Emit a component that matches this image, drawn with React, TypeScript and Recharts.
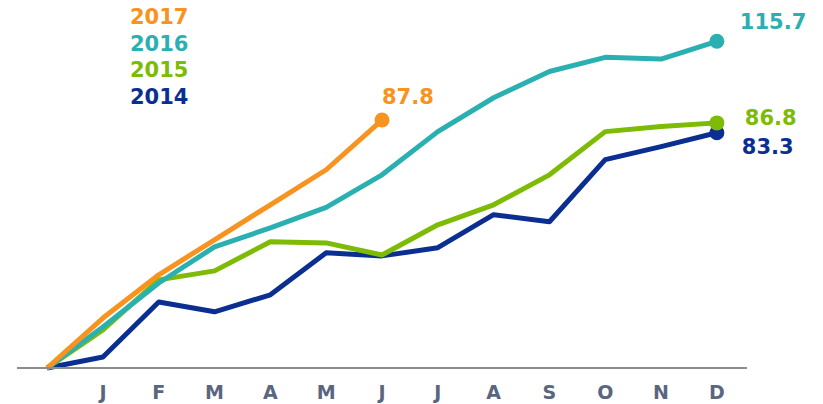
import { LineChart, Line, XAxis, YAxis } from 'recharts'

const months = ['', 'J', 'F', 'M', 'A', 'M', 'J', 'J', 'A', 'S', 'O', 'N', 'D']
const monthTicks = [1, 2, 3, 4, 5, 6, 7, 8, 9, 10, 11, 12]

const y2014 = [0, 3.9, 23.4, 19.9, 25.9, 40.8, 39.7, 42.6, 54.3, 51.8, 73.8, 78.4, 83.3]
const y2015 = [0, 13.5, 31.2, 34.4, 44.7, 44.3, 40.0, 50.7, 57.8, 68.4, 83.7, 85.5, 86.8]
const y2016 = [0, 14.5, 30.1, 42.9, 49.6, 56.9, 68.4, 83.7, 95.7, 105.0, 110.0, 109.4, 115.7]
const y2017 = [0, 17.7, 33.0, 45.4, 57.8, 70.2, 87.8]

const data = months.map((m, i) => ({
  i,
  m,
  y2014: y2014[i],
  y2015: y2015[i],
  y2016: y2016[i],
  y2017: i < y2017.length ? y2017[i] : null,
}))

const series = [
  { key: 'y2017', name: '2017', color: '#F7931E', last: y2017.length - 1, dx: 0, dy: -22 },
  { key: 'y2016', name: '2016', color: '#2BB0B2', last: 12, dx: 23, dy: -18 },
  { key: 'y2015', name: '2015', color: '#7DBB05', last: 12, dx: 28, dy: -4 },
  { key: 'y2014', name: '2014', color: '#0B2F91', last: 12, dx: 25, dy: 15 },
]

const font = '"DejaVu Sans", Arial, sans-serif'

const EndDot = (last: number, color: string) => (props: any) => {
  if (props.index !== last) return <g key={props.index} />
  return <circle key={props.index} cx={props.cx} cy={props.cy} r={7.5} fill={color} />
}

const EndLabel = (last: number, color: string, dx: number, dy: number) => (props: any) => {
  if (props.index !== last) return <g key={props.index} />
  return (
    <text
      key={props.index}
      x={props.x + dx}
      y={props.y + dy}
      fill={color}
      fontFamily={font}
      fontWeight='bold'
      fontSize={21}
      dominantBaseline='middle'
    >
      {props.value}
    </text>
  )
}

export default function App() {
  return (
    <div style={{ position: 'absolute', left: 0, top: 0, width: 823, height: 404, background: '#fff' }}>
      <LineChart
        width={823}
        height={404}
        data={data}
        margin={{ top: 15, right: 76, left: 17, bottom: 6 }}
      >
        <XAxis
          dataKey='i'
          type='number'
          domain={[-0.54, 12.54]}
          allowDataOverflow
          ticks={monthTicks}
          tickFormatter={(v) => months[v]}
          interval={0}
          height={30}
          tickLine={false}
          tickSize={0}
          tickMargin={18}
          axisLine={{ stroke: '#8c8c8c', strokeWidth: 2 }}
          tick={{ fill: '#5a6680', fontSize: 19, fontWeight: 'bold', fontFamily: font }}
        />
        <YAxis hide domain={[0, 125]} />
        {series
          .slice()
          .reverse()
          .map((s) => (
            <Line
              key={s.key}
              dataKey={s.key}
              name={s.name}
              stroke={s.color}
              strokeWidth={5}
              strokeLinejoin='round'
              dot={EndDot(s.last, s.color)}
              activeDot={false}
              label={EndLabel(s.last, s.color, s.dx, s.dy)}
              isAnimationActive={false}
              connectNulls={false}
            />
          ))}
      </LineChart>
      <div
        style={{
          position: 'absolute',
          left: 130,
          top: 4,
          fontFamily: font,
          fontWeight: 'bold',
          fontSize: 21,
          lineHeight: '26.5px',
        }}
      >
        {series.map((s) => (
          <div key={s.key} style={{ color: s.color }}>
            {s.name}
          </div>
        ))}
      </div>
    </div>
  )
}
